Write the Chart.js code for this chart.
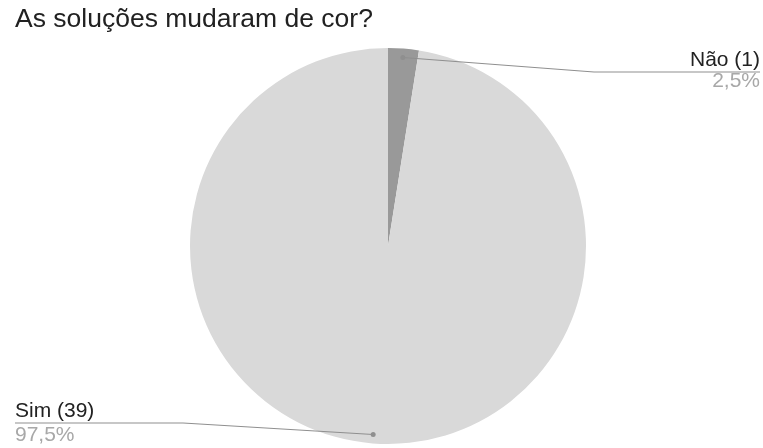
<!DOCTYPE html>
<html>
<head>
<meta charset="utf-8">
<script src="https://cdn.jsdelivr.net/npm/chart.js@4"></script>
<style>
  html, body { margin: 0; padding: 0; background: #fff; }
  #wrap { width: 763px; height: 448px; position: relative; }
</style>
</head>
<body>
<div id="wrap"><canvas id="pieCanvas" width="763" height="448"></canvas></div>
<script>
var titleText = "As soluções mudaram de cor?";
var labels = ["Não", "Sim"];
var counts = [1, 39];
var percentLabels = ["2,5%", "97,5%"];
var sliceColors = ["#999999", "#d9d9d9"];

// label boxes: side, text anchor x, baseline y of name, elbow x, gap to percent line
var calloutLayout = [
    { align: "right", x: 760, y: 66, elbowX: 594, pctGap: 21 },
    { align: "left", x: 15, y: 417, elbowX: 183, pctGap: 24 }
];

var callouts = {
    id: "callouts",
    afterDatasetsDraw: function (chart) {
        var ctx = chart.ctx;
        var arcs = chart.getDatasetMeta(0).data;
        ctx.save();

        ctx.fillStyle = "#212121";
        ctx.font = "26.5px 'Liberation Sans', Arial, sans-serif";
        ctx.textAlign = "left";
        ctx.textBaseline = "alphabetic";
        ctx.fillText(titleText, 15, 27);

        arcs.forEach(function (arc, i) {
            var p = arc.getProps(["x", "y", "startAngle", "endAngle", "outerRadius"], true);
            var mid = (p.startAngle + p.endAngle) / 2;
            var dotX = p.x + Math.cos(mid) * p.outerRadius * 0.955;
            var dotY = p.y + Math.sin(mid) * p.outerRadius * 0.955;
            var lay = calloutLayout[i];
            var lineY = lay.y + 6;

            ctx.strokeStyle = "#8f8f8f";
            ctx.lineWidth = 1.2;
            ctx.beginPath();
            ctx.moveTo(dotX, dotY);
            ctx.lineTo(lay.elbowX, lineY);
            ctx.lineTo(lay.x, lineY);
            ctx.stroke();

            ctx.fillStyle = "#8f8f8f";
            ctx.beginPath();
            ctx.arc(dotX, dotY, 2.5, 0, Math.PI * 2);
            ctx.fill();

            ctx.textAlign = lay.align;
            ctx.font = "21px 'Liberation Sans', Arial, sans-serif";
            ctx.fillStyle = "#222222";
            ctx.fillText(labels[i] + " (" + counts[i] + ")", lay.x, lay.y);
            ctx.fillStyle = "#a8a8a8";
            ctx.fillText(percentLabels[i], lay.x, lay.y + lay.pctGap);
        });
        ctx.restore();
    }
};

new Chart(document.getElementById("pieCanvas"), {
    type: "pie",
    data: {
        labels: labels,
        datasets: [{
            data: counts,
            backgroundColor: sliceColors,
            borderWidth: 0
        }]
    },
    options: {
        responsive: false,
        animation: false,
        layout: { padding: { top: 48, bottom: 4, left: 13, right: 0 } },
        plugins: {
            legend: { display: false },
            title: { display: false },
            tooltip: { enabled: false }
        }
    },
    plugins: [callouts]
});
</script>
</body>
</html>
